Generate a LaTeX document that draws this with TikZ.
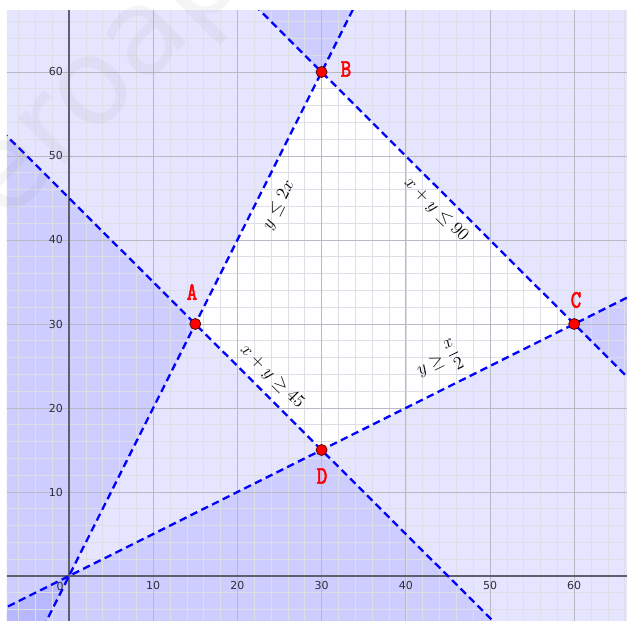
\documentclass[tikz,border=0pt]{standalone}
\usepackage{amsmath}
\usepackage{fontspec}
\newfontfamily\lblfont{lmmono10-regular.otf}[AutoFakeBold=2.5]
\newfontfamily\tickfont{DejaVu Sans}
\newfontfamily\wmfont{DejaVu Sans}
\definecolor{majgrid}{RGB}{185,185,198}
\definecolor{mingrid}{RGB}{222,222,230}
\definecolor{axiscol}{RGB}{95,95,110}
\definecolor{tickcol}{RGB}{45,45,60}
\newcommand\PX[2]{({(#1-69)/8.42},{(576-#2)/8.4})}
\tikzset{
  shade1/.style={fill=blue, fill opacity=0.1},
  ineqline/.style={blue, line width=2.3pt, dash pattern=on 7.5pt off 4.5pt},
  minorg/.style={mingrid, line width=0.6pt},
  majorg/.style={majgrid, line width=0.8pt},
  axisl/.style={axiscol, line width=1.3pt},
  ptdot/.style={circle, fill=red, draw=black!75!red, line width=0.7pt, inner sep=0pt, minimum size=11pt},
  ptlabel/.style={text=red, font=\lblfont\bfseries\fontsize{20}{22}\selectfont, yscale=1.25, inner sep=0pt},
  ineqlabel/.style={font=\Large, scale=1.25, inner sep=0pt},
  ticklab/.style={text=tickcol, font=\tickfont\fontsize{11}{12}\selectfont, inner sep=0pt}
}
\begin{document}
\begin{tikzpicture}[x=8.42pt, y=8.4pt]
\useasboundingbox \PX{0}{0} rectangle \PX{627}{621};
\fill[white] \PX{0}{0} rectangle \PX{627}{621};
\begin{scope}
  \clip \PX{7}{11} rectangle \PX{627}{621};
  % violated half-planes
  \fill[shade1] (-20,-40) -- (45,90) -- (-20,90) -- cycle;        % y > 2x
  \fill[shade1] (10,80) -- (100,-10) -- (100,80) -- cycle;        % x+y > 90
  \fill[shade1] (-20,65) -- (65,-20) -- (-20,-20) -- cycle;       % x+y < 45
  \fill[shade1] (-20,-10) -- (100,50) -- (100,-20) -- (-20,-20) -- cycle; % y < x/2
  % grid
  \foreach \i in {-8,-6,...,66} \draw[minorg] (\i,-6) -- (\i,68);
  \foreach \j in {-6,-4,...,68} \draw[minorg] (-8,\j) -- (67,\j);
  \foreach \i in {10,20,...,60} \draw[majorg] (\i,-6) -- (\i,68);
  \foreach \j in {10,20,...,60} \draw[majorg] (-8,\j) -- (67,\j);
  \draw[axisl] (-8,0) -- (67,0);
  \draw[axisl] (0,-6) -- (0,68);
  % boundary lines
  \coordinate (L1s) at (-5,-10);  \coordinate (L1e) at (40,80);
  \coordinate (L2s) at (20,70);   \coordinate (L2e) at (90,0);
  \coordinate (L3s) at (-10,55);  \coordinate (L3e) at (55,-10);
  \coordinate (L4s) at (-20,-10); \coordinate (L4e) at (80,40);
  \draw[ineqline] (L1s) -- (L1e);
  \draw[ineqline] (L2s) -- (L2e);
  \draw[ineqline] (L3s) -- (L3e);
  \draw[ineqline] (L4s) -- (L4e);
\end{scope}
% tick labels
\foreach \i in {10,20,...,60} \node[ticklab] (tx\i) at (\i,-1.15) {\i};
\foreach \j in {10,20,...,60} \node[ticklab, anchor=east] (ty\j) at (-0.7,\j) {\j};
\node[ticklab] (t0) at (-1.05,-1.3) {0};
% points
\node[ptdot] (A) at (15,30) {};
\node[ptdot] (B) at (30,60) {};
\node[ptdot] (C) at (60,30) {};
\node[ptdot] (D) at (30,15) {};
\node[ptlabel] (lA) at \PX{192}{292} {A};
\node[ptlabel] (lB) at \PX{346}{69} {B};
\node[ptlabel] (lC) at \PX{576}{300} {C};
\node[ptlabel] (lD) at \PX{322}{476} {D};
% inequality labels
\node[ineqlabel, rotate=63.4] (e1) at \PX{279}{205} {$y \leq 2x$};
\node[ineqlabel, rotate=-44.9] (e2) at \PX{436}{210} {$x + y \leq 90$};
\node[ineqlabel, rotate=-44.9] (e3) at \PX{272}{377} {$x + y \geq 45$};
\node[ineqlabel, rotate=26.5] (e4) at \PX{439}{362} {$y \geq \dfrac{x}{2}$};
% watermark
\node[text=gray, text opacity=0.08, font=\wmfont\fontsize{120}{120}\selectfont, rotate=45, inner sep=0pt] (wm) at \PX{112}{88} {eroap};
\end{tikzpicture}
\end{document}
